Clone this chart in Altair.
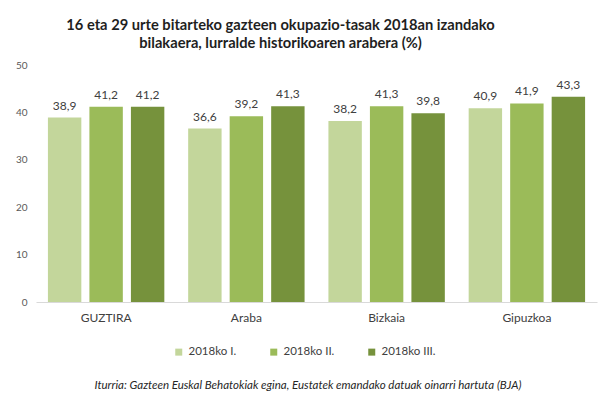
import altair as alt
import pandas as pd

categories = ["GUZTIRA", "Araba", "Bizkaia", "Gipuzkoa"]
periods = ["2018ko I.", "2018ko II.", "2018ko III."]
q1 = [38.9, 36.6, 38.2, 40.9]
q2 = [41.2, 39.2, 41.3, 41.9]
q3 = [41.2, 41.3, 39.8, 43.3]
colors = ["#C3D69B", "#9BBB59", "#76923C"]
title_lines = [
    "16 eta 29 urte bitarteko gazteen okupazio-tasak 2018an izandako",
    "bilakaera, lurralde historikoaren arabera (%)",
]
source = "Iturria: Gazteen Euskal Behatokiak egina, Eustatek emandako datuak oinarri hartuta (BJA)"

rows = []
for period, series in zip(periods, [q1, q2, q3]):
    for cat, val in zip(categories, series):
        rows.append({"lurraldea": cat, "aldia": period, "tasa": val})
df = pd.DataFrame(rows)

FONT = "Lato"

base = alt.Chart(df).encode(
    x=alt.X(
        "lurraldea:N",
        sort=categories,
        title=None,
        scale=alt.Scale(paddingInner=0.17, paddingOuter=0.085),
        axis=alt.Axis(
            labelAngle=0,
            labelFontSize=12,
            labelColor="#404040",
            labelPadding=10,
            ticks=False,
            domainColor="#D9D9D9",
            domainWidth=1,
        ),
    ),
    xOffset=alt.XOffset(
        "aldia:N", sort=periods, scale=alt.Scale(paddingInner=0.195, paddingOuter=0)
    ),
)

bars = base.mark_bar().encode(
    y=alt.Y(
        "tasa:Q",
        title=None,
        scale=alt.Scale(domain=[0, 50], nice=False),
        axis=alt.Axis(
            values=[0, 10, 20, 30, 40, 50],
            grid=False,
            domain=False,
            ticks=False,
            labelFontSize=10,
            labelColor="#595959",
            labelPadding=9,
        ),
    ),
    color=alt.Color(
        "aldia:N",
        sort=periods,
        scale=alt.Scale(domain=periods, range=colors),
        legend=alt.Legend(
            title=None,
            orient="none",
            direction="horizontal",
            legendX=137,
            legendY=281,
            symbolType="square",
            symbolSize=49,
            symbolStrokeWidth=0,
            labelFontSize=11.5,
            labelColor="#404040",
            labelOffset=4,
            columnPadding=31,
        ),
    ),
)

labels = (
    base.transform_calculate(lbl="replace(format(datum.tasa, '.1f'), '.', ',')")
    .mark_text(baseline="bottom", dy=-5, fontSize=12, color="#404040", font=FONT)
    .encode(y=alt.Y("tasa:Q"), text="lbl:N")
)

footer = (
    alt.Chart(pd.DataFrame({"t": [source]}))
    .mark_text(fontSize=11.5, fontStyle="italic", color="#262626", font=FONT)
    .encode(x=alt.value(272), y=alt.value(321), text="t:N")
)

chart = (
    alt.layer(bars, labels, footer)
    .properties(
        width=561,
        height=237,
        autosize=alt.AutoSizeParams(type="none"),
        padding={"left": 28, "top": 57, "right": 5, "bottom": 90},
        title=alt.TitleParams(
            text=title_lines,
            fontSize=14.7,
            fontWeight="bold",
            color="#1F1F1F",
            font=FONT,
            anchor="middle",
            dx=-36,
            offset=9,
            lineHeight=18,
        ),
    )
    .configure_view(stroke=None)
    .configure_axis(labelFont=FONT)
    .configure_legend(labelFont=FONT)
)

chart.save("out.html", embed_options={"renderer": "svg", "actions": False})
